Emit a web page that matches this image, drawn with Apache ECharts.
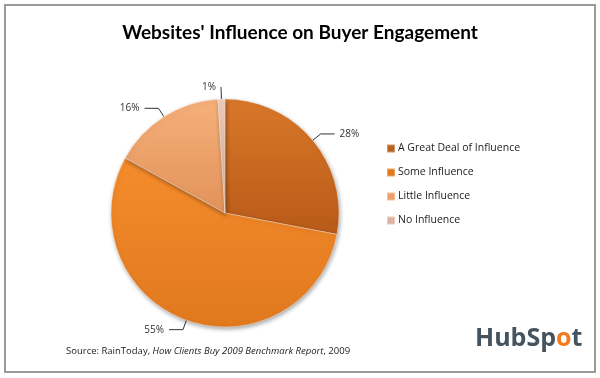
<!DOCTYPE html>
<html><head><meta charset="utf-8">
<script src="https://cdn.jsdelivr.net/npm/echarts@6/dist/echarts.min.js"></script>
<style>html,body{margin:0;padding:0;background:#fff}#c{width:600px;height:378px}</style>
</head><body><div id="c"></div>
<script>
const categories = ['A Great Deal of Influence', 'Some Influence', 'Little Influence', 'No Influence'];
const values = [28, 55, 16, 1];
const colors = [
  ['#D9782A', '#B85A18'],
  ['#F58C2C', '#E0781E'],
  ['#F6B07A', '#E2925A'],
  ['#F0CDBE', '#D9A890']
];
const legendColors = ['#B8601E', '#E0781E', '#EE9E68', '#DDB0A0'];
const titleText = "Websites' Influence on Buyer Engagement";

const chart = echarts.init(document.getElementById('c'), null, {renderer: 'canvas'});
const data = categories.map((name, i) => {
  const d = {
    name, value: values[i],
    itemStyle: {
      color: new echarts.graphic.LinearGradient(0, 0, 0, 1, [
        {offset: 0, color: colors[i][0]}, {offset: 1, color: colors[i][1]}
      ])
    }
  };
  if (i === 3) { d.labelLine = {length: 12, length2: 0}; d.label = {align: 'center', verticalAlign: 'bottom'}; }
  return d;
});
chart.setOption({
  animation: false,
  backgroundColor: '#fff',
  title: {
    text: titleText, left: 'center', top: 18,
    textStyle: {fontFamily: 'Lato', fontWeight: 'bold', fontSize: 19, color: '#000'}
  },
  legend: {
    orient: 'vertical', left: 381, top: 138, itemGap: 13,
    itemWidth: 8, itemHeight: 8, icon: 'rect',
    data: categories.map((n, i) => ({name: n, itemStyle: {color: legendColors[i]}})),
    textStyle: {fontFamily: 'Open Sans', fontSize: 10.5, color: '#222', padding: [0, 0, 0, -2]}
  },
  series: [{
    type: 'pie', center: [225, 213], radius: 114, startAngle: 90, clockwise: true,
    data,
    itemStyle: {borderColor: 'rgba(255,255,255,0.35)', borderWidth: 1, shadowBlur: 4, shadowColor: 'rgba(0,0,0,0.35)', shadowOffsetX: 1, shadowOffsetY: 2},
    label: {
      show: true, formatter: '{c}%', fontFamily: 'Open Sans', fontSize: 10, color: '#333',
      position: 'outside'
    },
    labelLine: {show: true, length: 10, length2: 14, lineStyle: {color: '#333', width: 1}},
    emphasis: {disabled: true}
  }],
  graphic: [
    {type: 'rect', shape: {x: 5, y: 5, width: 590, height: 367}, style: {fill: 'none', stroke: '#9a9a9a', lineWidth: 2}},
    {type: 'text', left: 66, top: 346, style: {
      text: '{n|Source: RainToday, }{i|How Clients Buy 2009 Benchmark Report}{n|, 2009}',
      rich: {
        n: {fontFamily: 'Open Sans', fontSize: 9.5, fill: '#222'},
        i: {fontFamily: 'Open Sans', fontSize: 9.5, fontStyle: 'italic', fill: '#222'}
      }
    }},
    {type: 'text', left: 475, top: 326, style: {
      text: '{d|HubSp}{o|o}{d|t}',
      rich: {
        d: {fontFamily: 'Open Sans', fontWeight: 'bold', fontSize: 25, fill: '#45535e'},
        o: {fontFamily: 'Open Sans', fontWeight: 'bold', fontSize: 25, fill: '#f47a20'}
      }
    }}
  ]
});
</script></body></html>
